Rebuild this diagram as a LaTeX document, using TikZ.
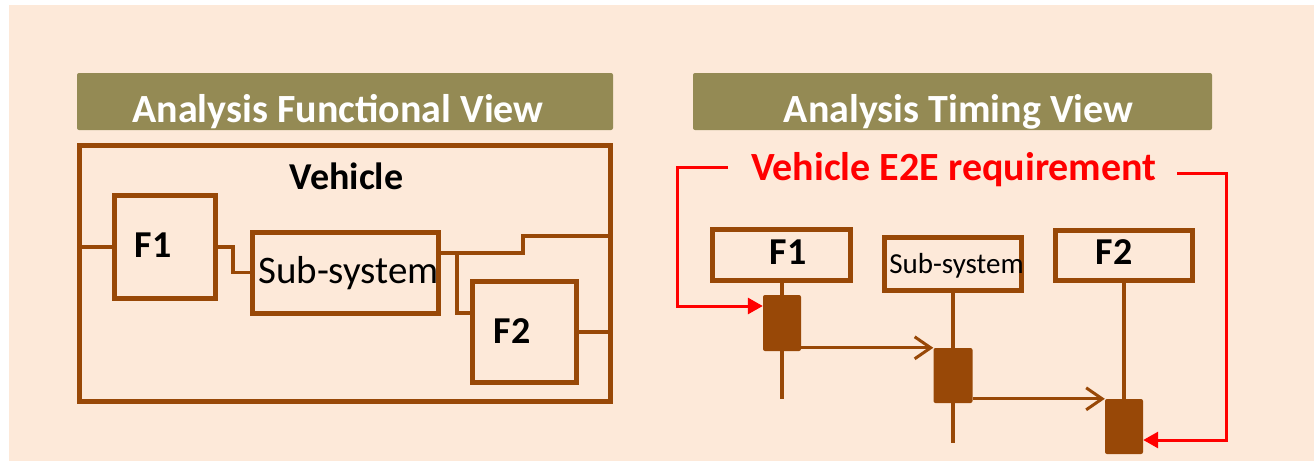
\documentclass[tikz,border=0pt]{standalone}
\usepackage{fontspec}
\setmainfont{Carlito}
\usetikzlibrary{arrows.meta,backgrounds}
\definecolor{peach}{RGB}{253,233,217}
\definecolor{olivebar}{RGB}{148,138,84}
\definecolor{rust}{RGB}{152,72,7}
\tikzset{
  hdrbar/.style={fill=olivebar,rounded corners=2pt,inner sep=0pt},
  hdrtext/.style={text=white,font=\fontsize{40}{48}\selectfont\bfseries,inner sep=0pt,anchor=base},
  fbox/.style={draw=rust,line width=5pt,inner sep=0pt},
  btext/.style={font=\fontsize{38}{44}\selectfont\bfseries,inner sep=0pt,anchor=base},
  rtext/.style={font=\fontsize{39}{46}\selectfont,inner sep=0pt,anchor=base},
  stext/.style={font=\fontsize{29}{34}\selectfont,inner sep=0pt,anchor=base},
  reqtext/.style={text=red,font=\fontsize{40}{48}\selectfont\bfseries,inner sep=0pt,anchor=base west},
  act/.style={fill=rust,rounded corners=2pt,inner sep=0pt},
  wire/.style={draw=rust,line width=3.2pt},
  life/.style={draw=rust,line width=4.5pt},
  msg/.style={draw=rust,line width=3pt,-{Straight Barb[length=16pt,width=22pt]}},
  reqline/.style={draw=red,line width=3pt,-{Triangle[length=15pt,width=16pt]}}
}

\begin{document}
\begin{tikzpicture}[x=1pt,y=1pt]
  \useasboundingbox (0,0) rectangle (1314,-461);

  % headers:
  \node[hdrbar,minimum width=536pt,minimum height=57pt] (barF) at (345,-101.5) {};
  \node[hdrtext] (titleF) at (338,-122) {Analysis Functional View};
  \node[hdrbar,minimum width=519pt,minimum height=57pt] (barT) at (952.5,-101.5) {};
  \node[hdrtext] (titleT) at (958.5,-122) {Analysis Timing View};

  % functional view:
  \node[fbox,minimum width=530.5pt,minimum height=255.5pt] (veh) at (344.75,-273.25) {};
  \node[btext] (vehT) at (346.5,-189) {Vehicle};
  \node[fbox,minimum width=101pt,minimum height=103pt] (F1) at (165,-247) {};
  \node[btext] (F1T) at (153,-257) {F1};
  \node[fbox,minimum width=185.5pt,minimum height=80.5pt] (sub) at (345.25,-272.75) {};
  \node[rtext] (subT) at (348.5,-283) {Sub-system};
  \node[fbox,minimum width=104pt,minimum height=101pt] (F2) at (524.5,-332) {};
  \node[btext] (F2T) at (512,-343) {F2};

  \coordinate (jn) at (457,-253);
  \draw[wire] (F1.west -| veh.west) -- (F1.west);
  \draw[wire] (F1.east) -- ++(15,0) |- (sub.west);
  \draw[wire] (sub.east |- jn) -- (jn) -- ++(66,0) |- ([yshift=37.25pt]veh.east);
  \draw[wire] (jn) |- ([yshift=19pt]F2.west);
  \draw[wire] (F2.east) -- (F2.east -| veh.east);

  % timing view:
  \node[reqtext] (req) at (751,-180) {Vehicle E2E requirement};
  \node[fbox,minimum width=138pt,minimum height=51pt] (tF1) at (781,-254.5) {};
  \node[btext] (tF1T) at (788,-264) {F1};
  \node[fbox,minimum width=137pt,minimum height=53pt] (tsub) at (952.5,-263.5) {};
  \node[stext] (tsubT) at (956.5,-273) {Sub-system};
  \node[fbox,minimum width=137pt,minimum height=50pt] (tF2) at (1123.5,-255) {};
  \node[btext] (tF2T) at (1114,-264) {F2};

  \node[act,minimum width=38pt,minimum height=56pt] (aF1) at (782,-323) {};
  \node[act,minimum width=39pt,minimum height=55pt] (asub) at (953,-375.5) {};
  \node[act,minimum width=38pt,minimum height=55pt] (aF2) at (1124,-426.5) {};

  \coordinate (F1end) at (782,-399);
  \coordinate (subend) at (953,-443);
  \begin{pgfonlayer}{background}
    \fill[white] (0,0) rectangle (1314,-461);
    \fill[peach] (9,-5) rectangle (1314,-461);
    % lifelines:
    \draw[life] (aF1.north |- tF1.south) -- (F1end);
    \draw[life] (asub.north |- tsub.south) -- (subend);
    \draw[life] (aF2.north |- tF2.south) -- (aF2.north);
  \end{pgfonlayer}

  \draw[msg] (asub.north west -| aF1.east) -- (asub.north west);
  \draw[msg] (aF2.north west -| asub.east) -- (aF2.north west);

  % requirement:
  \coordinate (reqA) at (728,-167);
  \coordinate (reqB) at (1177,-173);
  \draw[reqline] (reqA) -- ++(-51,0) |- ([yshift=17pt]aF1.west);
  \draw[reqline] (reqB) -- ++(49,0) |- ([yshift=-13.5pt]aF2.east);
\end{tikzpicture}
\end{document}
